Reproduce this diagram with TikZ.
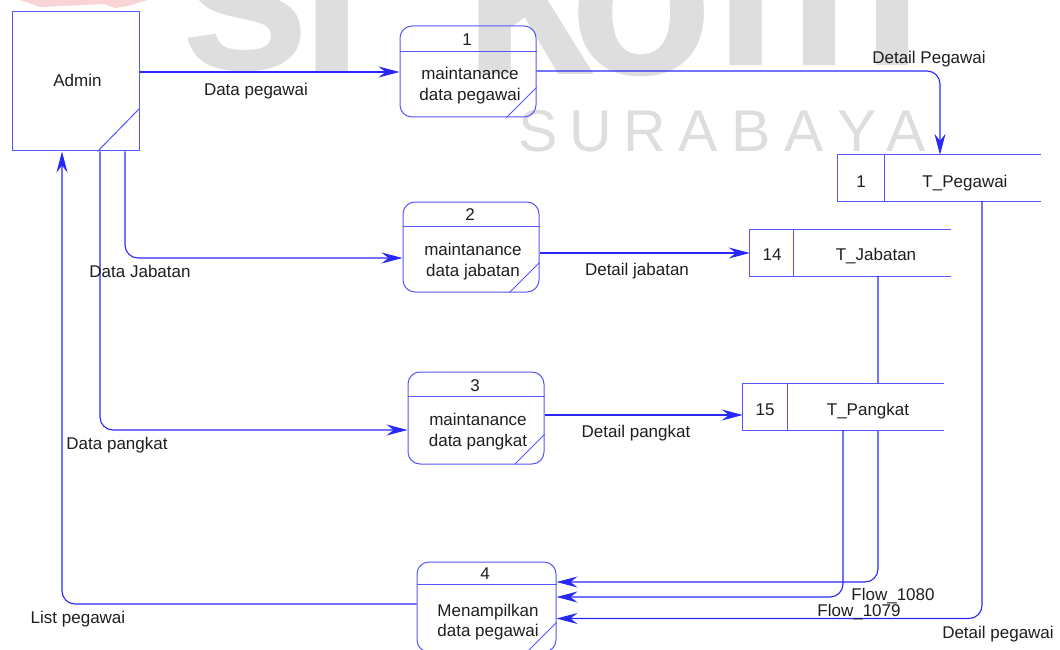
\documentclass[tikz,border=0pt]{standalone}
\usepackage{fontspec}
\setmainfont{Liberation Sans}
\usetikzlibrary{arrows.meta}

\definecolor{flowblue}{RGB}{40,40,250}
\definecolor{edgeblue}{RGB}{85,85,255}
\definecolor{ink}{RGB}{30,30,30}
\definecolor{wmgray}{RGB}{222,222,222}
\definecolor{wmpink}{RGB}{250,212,212}

\begin{document}
\begin{tikzpicture}[x=1pt,y=-1pt,
  every node/.style={font=\fontsize{17}{21}\selectfont, text=ink, inner sep=0pt},
  lbl/.style={anchor=base},
  entity/.style={draw=edgeblue, line width=1pt, rectangle},
  proc/.style={draw=edgeblue, line width=1pt, rectangle, rounded corners=12pt},
  store/.style={rectangle, minimum height=46pt},
  edge/.style={draw=edgeblue, line width=1pt},
  flow/.style={draw=flowblue, line width=1.1pt, rounded corners=13pt,
               -{Stealth[length=21pt,width=11pt,inset=7pt]}},
  wmbig/.style={font=\fontsize{236}{240}\selectfont\bfseries, text=wmgray, anchor=base},
  wmsmall/.style={font=\fontsize{59}{60}\selectfont, text=wmgray, anchor=base}
]
\useasboundingbox (0,0) rectangle (1060,650);

% --- background logo lettering ---
\fill[wmpink] (20,0) -- (148,0) -- (128,6) -- (115,8) -- (104,4) -- (40,7) -- cycle;
\foreach \ch/\xx/\yy in {s/245/70, i/332/73, k/528/75, o/642/75, m/818/66}
  \node[wmbig] (wm\ch) at (\xx,\yy) {\ch};
\foreach \ch/\xx in {S/538, U/591, R/645, A/698, B/751, A/804, Y/857, A/906}
  \node[wmsmall] (sb\xx) at (\xx,152) {\ch};

% --- external entity ---
\node[entity, minimum width=127pt, minimum height=139pt] (adm) at (75.5,81.5) {};
\draw[edge] ([xshift=-42pt]adm.south east) -- ([yshift=43pt]adm.south east);
\node[lbl] (admt) at (77.5,87) {Admin};

% --- processes ---
\node[proc, minimum width=136pt, minimum height=91pt] (p1) at (468,71.5) {};
\draw[edge] ([yshift=-26pt]p1.north west) -- ([yshift=-26pt]p1.north east);
\draw[edge] ([xshift=-30pt]p1.south east) -- ([yshift=30pt]p1.south east);
\node[lbl] (p1n) at (467,45.7) {1};
\node[lbl] (p1a) at (470,79.5) {maintanance};
\node[lbl] (p1b) at (470,101) {data pegawai};

\node[proc, minimum width=136pt, minimum height=90pt] (p2) at (471,247) {};
\draw[edge] ([yshift=-25pt]p2.north west) -- ([yshift=-25pt]p2.north east);
\draw[edge] ([xshift=-30pt]p2.south east) -- ([yshift=30pt]p2.south east);
\node[lbl] (p2n) at (470,220) {2};
\node[lbl] (p2a) at (473,255.5) {maintanance};
\node[lbl] (p2b) at (473,276.5) {data jabatan};

\node[proc, minimum width=136pt, minimum height=92pt] (p3) at (476,418) {};
\draw[edge] ([yshift=-25pt]p3.north west) -- ([yshift=-25pt]p3.north east);
\draw[edge] ([xshift=-30pt]p3.south east) -- ([yshift=30pt]p3.south east);
\node[lbl] (p3n) at (475,391.7) {3};
\node[lbl] (p3a) at (478,425.7) {maintanance};
\node[lbl] (p3b) at (478,446.5) {data pangkat};

\node[proc, minimum width=139pt, minimum height=90pt] (p4) at (486.5,607) {};
\draw[edge] ([yshift=-22.5pt]p4.north west) -- ([yshift=-22.5pt]p4.north east);
\draw[edge] ([xshift=-30pt]p4.south east) -- ([yshift=30pt]p4.south east);
\node[lbl] (p4n) at (485,579) {4};
\node[lbl] (p4a) at (488,616.7) {Menampilkan};
\node[lbl] (p4b) at (488,636.5) {data pegawai};

% --- data stores (open on the right) ---
\node[store, minimum width=203pt] (s1) at (939.5,178) {};
\draw[edge] (s1.north east) -- (s1.north west) -- (s1.south west) -- (s1.south east);
\draw[edge] ([xshift=47pt]s1.north west) -- ([xshift=47pt]s1.south west);
\node[lbl] (s1n) at (861,187.5) {1};
\node[lbl] (s1t) at (965,187.5) {T\_Pegawai};

\node[store, minimum width=201pt] (s2) at (850.5,253) {};
\draw[edge] (s2.north east) -- (s2.north west) -- (s2.south west) -- (s2.south east);
\draw[edge] ([xshift=44pt]s2.north west) -- ([xshift=44pt]s2.south west);
\node[lbl] (s2n) at (772,260) {14};
\node[lbl] (s2t) at (876,260) {T\_Jabatan};

% --- data flows ---
\draw[flow] (adm.east |- 0,72) -- (p1.west |- 0,72);
\draw[flow] (p1.east |- 0,71) -| (s1.north -| 940,0);
\draw[flow] (adm.south -| 125,0) |- (p2.west |- 0,258);
\draw[flow] (adm.south -| 100,0) |- (p3.west |- 0,430);
\draw[flow] (p2.east |- 0,253) -- (s2.west |- 0,253);
\draw[flow] (s2.south -| 878,0) |- (p4.east |- 0,582);
\draw[flow] (s1.south -| 982,0) |- (p4.east |- 0,618.5);
\draw[flow] (p4.west |- 0,604) -| (adm.south -| 62,0);

% T_Pangkat sits on top of the T_Jabatan flow line
\node[store, minimum width=201pt, fill=white] (s3) at (843.5,407) {};
\draw[edge] (s3.north east) -- (s3.north west) -- (s3.south west) -- (s3.south east);
\draw[edge] ([xshift=45pt]s3.north west) -- ([xshift=45pt]s3.south west);
\node[lbl] (s3n) at (765,415) {15};
\node[lbl] (s3t) at (868,415) {T\_Pangkat};

\draw[flow] (p3.east |- 0,415) -- (s3.west |- 0,415);
\draw[flow] (s3.south -| 843,0) |- (p4.east |- 0,597);

% --- flow labels ---
\node[lbl] (l1) at (256,95.5) {Data pegawai};
\node[lbl] (l2) at (929,63.5) {Detail Pegawai};
\node[lbl] (l3) at (140,277.5) {Data Jabatan};
\node[lbl] (l4) at (637,275.5) {Detail jabatan};
\node[lbl] (l5) at (117,449) {Data pangkat};
\node[lbl] (l6) at (636,437.5) {Detail pangkat};
\node[lbl] (l7) at (78,623) {List pegawai};
\node[lbl] (l8) at (893,600) {Flow\_1080};
\node[lbl] (l9) at (859,616.5) {Flow\_1079};
\node[lbl] (l10) at (998,638) {Detail pegawai};
\end{tikzpicture}
\end{document}
